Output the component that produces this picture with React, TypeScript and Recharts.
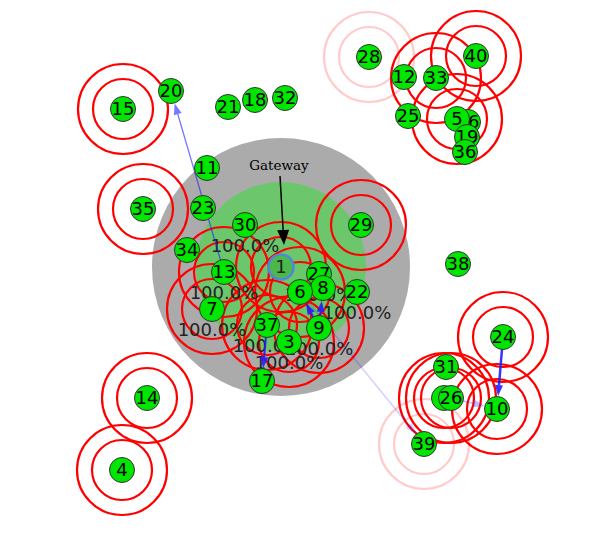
import React from "react";
import { ScatterChart, Scatter, XAxis, YAxis } from "recharts";

// node positions in field units (y grows downward)
const nodeIds = [28, 12, 33, 40, 25, 16, 5, 19, 36, 15, 20, 21, 18, 32, 11, 35, 23, 30, 34, 13, 7, 29, 27, 8, 6, 22, 9, 37, 3, 17, 38, 24, 31, 2, 26, 10, 39, 14, 4];
const nodeX = [369, 404, 436, 476, 408, 468, 457, 467, 465, 123, 171, 228, 255, 285, 207, 143, 203, 245, 187, 224, 212, 361, 319, 323, 300, 357, 319, 267, 289, 262, 458, 503, 446, 444, 451, 497, 424, 147, 122];
const nodeY = [57, 77, 78, 56, 116, 122, 119, 137, 152, 109, 91, 107, 100, 98, 168, 209, 208, 225, 250, 272, 309, 225, 274, 288, 292, 292, 328, 325, 342, 381, 264, 337, 367, 398, 398, 409, 444, 398, 470];

const gateway = { id: 1, x: 281, y: 267 };
const coverageRadii = [129, 85];

const ringNodes = [15, 35, 14, 4, 29, 33, 40, 5, 24, 10, 2, 26, 13, 7, 6, 9, 37, 3, 1];
const fadedRingNodes = [28, 39];
const ringRadii = [30, 45];

const pdrNodes = [30, 13, 7, 37, 3, 9, 22, 27];
const pdrValues = ["100.0%", "100.0%", "100.0%", "100.0%", "100.0%", "100.0%", "100.0%", "100.0%"];

const linkFrom = [13, 24, 37, 6, 26, 9, 9];
const linkTo = [20, 10, 17, 39, 10, 6, 8];
const linkWidth = [1.3, 2.5, 2, 1.5, 1.5, 2, 2];
const linkOpacity = [0.6, 0.9, 0.9, 0.2, 0.3, 0.9, 0.9];

const annotationText = "Gateway";
const annotationTextPos = { x: 279, y: 165 };
const annotationFrom = { x: 280, y: 176 };
const annotationTo = { x: 284, y: 245 };

const W = 602;
const H = 552;
const MARGIN = { top: 0, right: 0, bottom: 5, left: 5 };
const X_DOMAIN: [number, number] = [5, 602];
const Y_DOMAIN: [number, number] = [0, 547];
const PX = (W - MARGIN.left - MARGIN.right) / (X_DOMAIN[1] - X_DOMAIN[0]);

const pos = (id: number) => {
  if (id === gateway.id) return { x: gateway.x, y: gateway.y };
  const i = nodeIds.indexOf(id);
  return { x: nodeX[i], y: nodeY[i] };
};

const nodes = nodeIds.map((id, i) => ({ id, x: nodeX[i], y: nodeY[i] }));
const rings = ringNodes.map((id) => ({ id, ...pos(id), faded: false }));
const fadedRings = fadedRingNodes.map((id) => ({ id, ...pos(id), faded: true }));
const pdrLabels = pdrNodes.map((id, i) => ({ id, ...pos(id), text: pdrValues[i] }));
const links = linkFrom.map((f, i) => {
  const a = pos(f);
  const b = pos(linkTo[i]);
  return { x: a.x, y: a.y, tx: b.x, ty: b.y, w: linkWidth[i], op: linkOpacity[i] };
});
const annotation = [{ ...annotationFrom, tx: annotationTo.x, ty: annotationTo.y }];
const annotationLabel = [{ ...annotationTextPos, text: annotationText }];

const arrowPath = (
  cx: number, cy: number, ex: number, ey: number,
  startGap: number, endGap: number, headLen: number, headW: number
) => {
  const dx = ex - cx;
  const dy = ey - cy;
  const len = Math.sqrt(dx * dx + dy * dy) || 1;
  const ux = dx / len;
  const uy = dy / len;
  const tipX = ex - ux * endGap;
  const tipY = ey - uy * endGap;
  const bx = tipX - ux * headLen;
  const by = tipY - uy * headLen;
  const nx = -uy * headW / 2;
  const ny = ux * headW / 2;
  return {
    line: [cx + ux * startGap, cy + uy * startGap, bx, by],
    head: `${tipX},${tipY} ${bx + nx},${by + ny} ${bx - nx},${by - ny}`,
  };
};

const CoverageShape = (props: any) => {
  const { cx, cy } = props;
  return (
    <g>
      <circle cx={cx} cy={cy} r={coverageRadii[0] * PX} fill="#ababab" />
      <circle cx={cx} cy={cy} r={coverageRadii[1] * PX} fill="#6cc66c" />
    </g>
  );
};

const RingShape = (props: any) => {
  const { cx, cy, payload } = props;
  return (
    <g opacity={payload.faded ? 0.2 : 1}>
      {ringRadii.map((r) => (
        <circle key={r} cx={cx} cy={cy} r={r * PX} fill="none" stroke="#ff0000" strokeWidth={2.2} />
      ))}
    </g>
  );
};

const PdrShape = (props: any) => {
  const { cx, cy, payload } = props;
  return (
    <text x={cx} y={cy + 21} dy="0.35em" textAnchor="middle" fontFamily="DejaVu Sans" fontSize={18} fill="#222">
      {payload.text}
    </text>
  );
};

const LinkShape = (props: any) => {
  const { cx, cy, payload } = props;
  const ex = cx + (payload.tx - payload.x) * PX;
  const ey = cy + (payload.ty - payload.y) * PX;
  const a = arrowPath(cx, cy, ex, ey, 0, 13, 11, 8);
  return (
    <g opacity={payload.op}>
      <line x1={a.line[0]} y1={a.line[1]} x2={a.line[2]} y2={a.line[3]} stroke="#1f1fff" strokeWidth={payload.w} />
      <polygon points={a.head} fill="#1f1fff" />
    </g>
  );
};

const AnnotationArrow = (props: any) => {
  const { cx, cy, payload } = props;
  const ex = cx + (payload.tx - payload.x) * PX;
  const ey = cy + (payload.ty - payload.y) * PX;
  const a = arrowPath(cx, cy, ex, ey, 0, 0, 15, 12);
  return (
    <g>
      <line x1={a.line[0]} y1={a.line[1]} x2={a.line[2]} y2={a.line[3]} stroke="#000" strokeWidth={1.5} />
      <polygon points={a.head} fill="#000" />
    </g>
  );
};

const AnnotationText = (props: any) => {
  const { cx, cy, payload } = props;
  return (
    <text x={cx} y={cy} dy="0.35em" textAnchor="middle" fontFamily="DejaVu Serif" fontSize={13.5} fill="#000">
      {payload.text}
    </text>
  );
};

const NodeShape = (props: any) => {
  const { cx, cy, payload } = props;
  return (
    <g>
      <circle cx={cx} cy={cy} r={12.5} fill="#00e600" stroke="#333" strokeWidth={1} />
      <text x={cx} y={cy} dy="0.36em" textAnchor="middle" fontFamily="DejaVu Sans" fontSize={18} fill="#000">
        {payload.id}
      </text>
    </g>
  );
};

const GatewayShape = (props: any) => {
  const { cx, cy, payload } = props;
  return (
    <g>
      <circle cx={cx} cy={cy} r={12.5} fill="#4cb84c" stroke="#4a8ad8" strokeWidth={2.5} />
      <text x={cx} y={cy} dy="0.36em" textAnchor="middle" fontFamily="DejaVu Sans" fontSize={18} fill="#222">
        {payload.id}
      </text>
    </g>
  );
};

export default function App() {
  return (
    <div>
      <style>{"body{margin:0}"}</style>
      <ScatterChart width={W} height={H} margin={MARGIN}>
        <XAxis
          type="number"
          dataKey="x"
          domain={X_DOMAIN}
          tick={false}
          tickLine={false}
          height={0}
          axisLine={{ stroke: "#4f6f96", strokeWidth: 2 }}
        />
        <YAxis
          type="number"
          dataKey="y"
          domain={Y_DOMAIN}
          reversed
          tick={false}
          tickLine={false}
          width={0}
          axisLine={{ stroke: "#4f6f96", strokeWidth: 1.5 }}
        />
        <Scatter data={[gateway]} shape={CoverageShape} isAnimationActive={false} />
        <Scatter data={fadedRings} shape={RingShape} isAnimationActive={false} />
        <Scatter data={rings} shape={RingShape} isAnimationActive={false} />
        <Scatter data={pdrLabels} shape={PdrShape} isAnimationActive={false} />
        <Scatter data={links} shape={LinkShape} isAnimationActive={false} />
        <Scatter data={annotation} shape={AnnotationArrow} isAnimationActive={false} />
        <Scatter data={annotationLabel} shape={AnnotationText} isAnimationActive={false} />
        <Scatter data={[gateway]} shape={GatewayShape} isAnimationActive={false} />
        <Scatter data={nodes} shape={NodeShape} isAnimationActive={false} />
      </ScatterChart>
    </div>
  );
}
